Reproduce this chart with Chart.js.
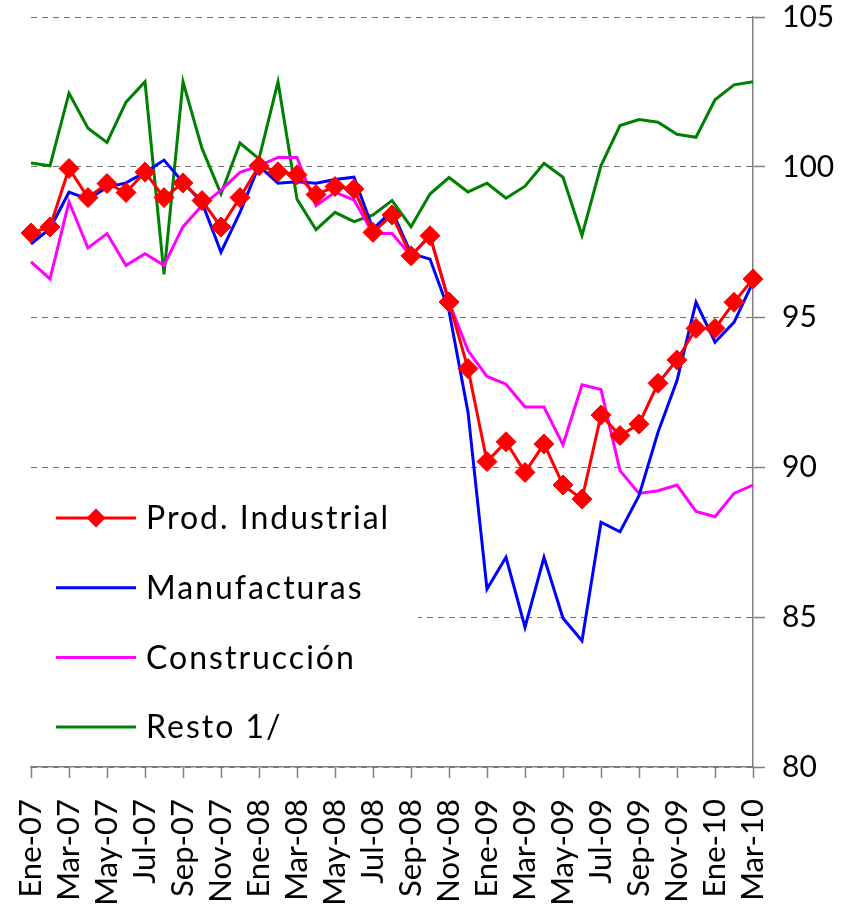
<!DOCTYPE html>
<html>
<head>
<meta charset="utf-8">
<script src="https://cdn.jsdelivr.net/npm/chart.js@4/dist/chart.umd.min.js"></script>
<style>
  html, body { margin: 0; padding: 0; background: #ffffff; }
  #wrap { width: 857px; height: 914px; position: relative; }
</style>
</head>
<body>
<div id="wrap"><canvas id="c" width="857" height="914"></canvas></div>
<script>
// ---- data ----
const months = [
  'Ene-07','Feb-07','Mar-07','Abr-07','May-07','Jun-07','Jul-07','Ago-07','Sep-07','Oct-07','Nov-07','Dic-07',
  'Ene-08','Feb-08','Mar-08','Abr-08','May-08','Jun-08','Jul-08','Ago-08','Sep-08','Oct-08','Nov-08','Dic-08',
  'Ene-09','Feb-09','Mar-09','Abr-09','May-09','Jun-09','Jul-09','Ago-09','Sep-09','Oct-09','Nov-09','Dic-09',
  'Ene-10','Feb-10','Mar-10'
];
const prodIndustrial = [
  97.80, 98.00, 99.95, 98.98, 99.45, 99.15, 99.83, 98.98, 99.47, 98.88, 98.00, 98.98,
  100.04, 99.84, 99.74, 99.08, 99.35, 99.27, 97.82, 98.40, 97.04, 97.71, 95.50, 93.28,
  90.18, 90.84, 89.82, 90.77, 89.40, 88.93, 91.73, 91.05, 91.43, 92.79, 93.57, 94.62,
  94.62, 95.49, 96.27
];
const manufacturas = [
  97.43, 97.95, 99.16, 98.93, 99.32, 99.47, 99.82, 100.23, 99.49, 98.82, 97.16, 98.49,
  100.04, 99.46, 99.51, 99.46, 99.58, 99.66, 97.93, 98.54, 97.12, 96.93, 95.20, 91.83,
  85.93, 86.99, 84.66, 86.99, 84.96, 84.21, 88.16, 87.84, 89.04, 91.16, 92.88, 95.49,
  94.16, 94.82, 96.16
];
const construccion = [
  96.84, 96.27, 98.84, 97.30, 97.78, 96.72, 97.11, 96.72, 98.01, 98.71, 99.23, 99.82,
  100.04, 100.32, 100.32, 98.71, 99.16, 98.90, 97.78, 97.78, 97.04, 97.71, 95.50, 93.88,
  93.02, 92.76, 92.00, 92.00, 90.74, 92.74, 92.58, 89.88, 89.12, 89.21, 89.40, 88.52,
  88.34, 89.12, 89.40
];
const resto = [
  100.13, 100.04, 102.46, 101.29, 100.82, 102.16, 102.84, 96.42, 102.84, 100.62, 99.10, 100.80,
  100.27, 102.84, 98.93, 97.91, 98.49, 98.18, 98.40, 98.88, 98.01, 99.10, 99.65, 99.17,
  99.46, 98.96, 99.36, 100.12, 99.66, 97.72, 100.05, 101.38, 101.58, 101.49, 101.09, 100.99,
  102.24, 102.74, 102.84
];
const seriesNames = ['Prod. Industrial', 'Manufacturas', 'Construcción', 'Resto 1/'];
const seriesColors = ['#ff0000', '#0000ff', '#ff00ff', '#008000'];
const yTicks = [80, 85, 90, 95, 100, 105];

const FONT = 'Lato, "Open Sans", sans-serif';

// legend drawn inside the plot area (lower left), with white backing over the grid
const insideLegend = {
  id: 'insideLegend',
  beforeDatasetsDraw(chart) {
    const ctx = chart.ctx, a = chart.chartArea;
    ctx.save();
    ctx.fillStyle = '#ffffff';
    ctx.fillRect(a.left - 6, 482, 418 - a.left + 6, a.bottom - 485);
    ctx.restore();
  },
  afterDatasetsDraw(chart) {
    const ctx = chart.ctx;
    const x0 = 56, x1 = 136, tx = 146, y0 = 518, dy = 69.7;
    ctx.save();
    chart.data.datasets.forEach((ds, i) => {
      const y = y0 + i * dy;
      ctx.strokeStyle = ds.borderColor;
      ctx.lineWidth = 3;
      ctx.beginPath();
      ctx.moveTo(x0, y);
      ctx.lineTo(x1, y);
      ctx.stroke();
      if (ds.pointStyle === 'rectRot') {
        const r = 9.5, cx = (x0 + x1) / 2;
        ctx.fillStyle = ds.borderColor;
        ctx.beginPath();
        ctx.moveTo(cx - r, y); ctx.lineTo(cx, y - r); ctx.lineTo(cx + r, y); ctx.lineTo(cx, y + r);
        ctx.closePath();
        ctx.fill();
      }
      ctx.fillStyle = '#000000';
      ctx.font = '32px ' + FONT;
      if ('letterSpacing' in ctx) ctx.letterSpacing = '2px';
      ctx.textBaseline = 'middle';
      ctx.textAlign = 'left';
      ctx.fillText(ds.label, tx, y + 1);
    });
    ctx.restore();
  }
};

new Chart(document.getElementById('c'), {
  type: 'line',
  data: {
    labels: months,
    datasets: [
      { label: seriesNames[0], data: prodIndustrial, borderColor: seriesColors[0], backgroundColor: seriesColors[0],
        borderWidth: 3, pointStyle: 'rectRot', pointRadius: 10, pointBorderWidth: 1, pointBackgroundColor: seriesColors[0] },
      { label: seriesNames[1], data: manufacturas, borderColor: seriesColors[1], backgroundColor: seriesColors[1],
        borderWidth: 3, pointRadius: 0 },
      { label: seriesNames[2], data: construccion, borderColor: seriesColors[2], backgroundColor: seriesColors[2],
        borderWidth: 3, pointRadius: 0 },
      { label: seriesNames[3], data: resto, borderColor: seriesColors[3], backgroundColor: seriesColors[3],
        borderWidth: 3, pointRadius: 0 }
    ]
  },
  options: {
    responsive: false,
    animation: false,
    devicePixelRatio: 1,
    layout: { padding: { top: 17, left: 31, right: 0, bottom: 0 } },
    elements: { line: { tension: 0 } },
    plugins: { legend: { display: false }, tooltip: { enabled: false } },
    scales: {
      x: {
        type: 'category',
        offset: false,
        grid: { display: true, drawOnChartArea: false, drawTicks: true, tickLength: 11, tickColor: '#808080', tickWidth: 1.5 },
        border: { display: true, color: '#808080', width: 1.5 },
        ticks: { autoSkip: false, maxRotation: 90, minRotation: 90, padding: 21, color: '#000000',
                 font: { family: FONT, size: 31 } },
        afterBuildTicks(scale) { scale.ticks = scale.ticks.filter((t, i) => i % 2 === 0); },
        afterFit(scale) { scale.height = 914 - 767; scale.paddingLeft = 0; scale.paddingRight = 0; }
      },
      y: {
        position: 'right',
        min: yTicks[0],
        max: yTicks[yTicks.length - 1],
        afterBuildTicks(scale) { scale.ticks = yTicks.map(v => ({ value: v })); },
        grid: { color: '#707070', lineWidth: 1, tickLength: 12, tickColor: '#808080', tickWidth: 1.5, tickBorderDash: [] },
        border: { display: true, color: '#808080', width: 1.5, dash: [6, 5] },
        ticks: { padding: 17, color: '#000000', font: { family: FONT, size: 30 } },
        afterFit(scale) { scale.width = 857 - 753; scale.paddingTop = 0; scale.paddingBottom = 0; }
      }
    }
  },
  plugins: [insideLegend]
});
</script>
</body>
</html>
